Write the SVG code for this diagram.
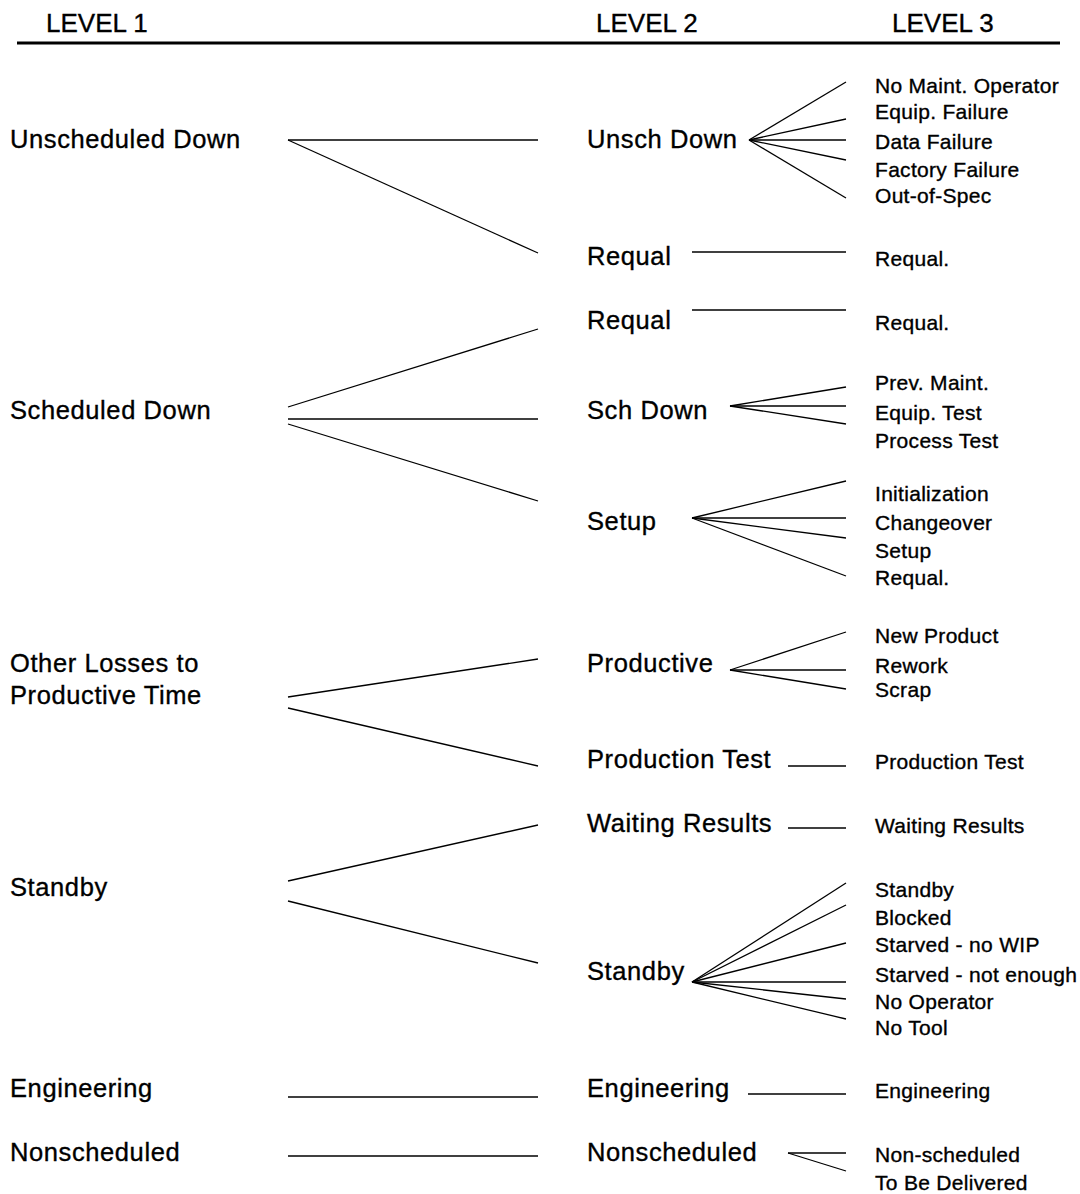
<svg xmlns="http://www.w3.org/2000/svg" width="1080" height="1194" viewBox="0 0 1080 1194">
<style>
text{font-family:"Liberation Sans",Arial,sans-serif;fill:#000;stroke:#000;stroke-width:0.35}
.h{font-size:26px}
.l{font-size:25.5px;letter-spacing:0.6px}
.s{font-size:21px;letter-spacing:0.3px}
line{stroke:#000;stroke-width:1.3}
.hr{stroke-width:3}
</style>
<rect width="1080" height="1194" fill="#fff"/>
<g id="header">
<text class="h" x="46" y="32">LEVEL 1</text>
<text class="h" x="596" y="32">LEVEL 2</text>
<text class="h" x="892" y="32">LEVEL 3</text>
<line class="hr" x1="17" y1="43" x2="1060" y2="43"/>
</g>
<g id="level1">
<g id="l1-unsch"><text class="l" x="10" y="148">Unscheduled Down</text></g>
<g id="l1-sch"><text class="l" x="10" y="419">Scheduled Down</text></g>
<g id="l1-other"><text class="l" x="10" y="672">Other Losses to</text><text class="l" x="10" y="704">Productive Time</text></g>
<g id="l1-standby"><text class="l" x="10" y="896">Standby</text></g>
<g id="l1-eng"><text class="l" x="10" y="1097">Engineering</text></g>
<g id="l1-nonsch"><text class="l" x="10" y="1161">Nonscheduled</text></g>
</g>
<g id="level2">
<g id="l2-unsch"><text class="l" x="587" y="148">Unsch Down</text></g>
<g id="l2-requal1"><text class="l" x="587" y="265">Requal</text></g>
<g id="l2-requal2"><text class="l" x="587" y="329">Requal</text></g>
<g id="l2-sch"><text class="l" x="587" y="419">Sch Down</text></g>
<g id="l2-setup"><text class="l" x="587" y="530">Setup</text></g>
<g id="l2-prod"><text class="l" x="587" y="672">Productive</text></g>
<g id="l2-prodtest"><text class="l" x="587" y="768">Production Test</text></g>
<g id="l2-wait"><text class="l" x="587" y="832">Waiting Results</text></g>
<g id="l2-standby"><text class="l" x="587" y="980">Standby</text></g>
<g id="l2-eng"><text class="l" x="587" y="1097">Engineering</text></g>
<g id="l2-nonsch"><text class="l" x="587" y="1161">Nonscheduled</text></g>
</g>
<g id="level3">
<g id="l3-unsch">
<text class="s" x="875" y="93">No Maint. Operator</text>
<text class="s" x="875" y="119">Equip. Failure</text>
<text class="s" x="875" y="149">Data Failure</text>
<text class="s" x="875" y="177">Factory Failure</text>
<text class="s" x="875" y="203">Out-of-Spec</text>
</g>
<g id="l3-requal1"><text class="s" x="875" y="266">Requal.</text></g>
<g id="l3-requal2"><text class="s" x="875" y="330">Requal.</text></g>
<g id="l3-sch">
<text class="s" x="875" y="390">Prev. Maint.</text>
<text class="s" x="875" y="420">Equip. Test</text>
<text class="s" x="875" y="448">Process Test</text>
</g>
<g id="l3-setup">
<text class="s" x="875" y="501">Initialization</text>
<text class="s" x="875" y="530">Changeover</text>
<text class="s" x="875" y="558">Setup</text>
<text class="s" x="875" y="585">Requal.</text>
</g>
<g id="l3-prod">
<text class="s" x="875" y="643">New Product</text>
<text class="s" x="875" y="673">Rework</text>
<text class="s" x="875" y="697">Scrap</text>
</g>
<g id="l3-prodtest"><text class="s" x="875" y="769">Production Test</text></g>
<g id="l3-wait"><text class="s" x="875" y="833">Waiting Results</text></g>
<g id="l3-standby">
<text class="s" x="875" y="897">Standby</text>
<text class="s" x="875" y="925">Blocked</text>
<text class="s" x="875" y="952">Starved - no WIP</text>
<text class="s" x="875" y="982">Starved - not enough</text>
<text class="s" x="875" y="1009">No Operator</text>
<text class="s" x="875" y="1035">No Tool</text>
</g>
<g id="l3-eng"><text class="s" x="875" y="1098">Engineering</text></g>
<g id="l3-nonsch">
<text class="s" x="875" y="1162">Non-scheduled</text>
<text class="s" x="875" y="1190">To Be Delivered</text>
</g>
</g>
<g id="connectors">
<line x1="288" y1="140" x2="538" y2="140"/>
<line x1="288" y1="140" x2="538" y2="253"/>
<line x1="288" y1="407" x2="538" y2="329"/>
<line x1="288" y1="419" x2="538" y2="419"/>
<line x1="288" y1="424" x2="538" y2="501"/>
<line x1="288" y1="697" x2="538" y2="659"/>
<line x1="288" y1="708" x2="538" y2="766"/>
<line x1="288" y1="881" x2="538" y2="825"/>
<line x1="288" y1="901" x2="538" y2="963"/>
<line x1="288" y1="1097" x2="538" y2="1097"/>
<line x1="288" y1="1156" x2="538" y2="1156"/>
<line x1="749" y1="140" x2="846" y2="82"/>
<line x1="749" y1="140" x2="846" y2="119"/>
<line x1="749" y1="140" x2="846" y2="140"/>
<line x1="749" y1="140" x2="846" y2="160"/>
<line x1="749" y1="140" x2="846" y2="198"/>
<line x1="692" y1="252" x2="846" y2="252"/>
<line x1="692" y1="310" x2="846" y2="310"/>
<line x1="730" y1="406" x2="846" y2="387"/>
<line x1="730" y1="406" x2="846" y2="406"/>
<line x1="730" y1="406" x2="846" y2="424"/>
<line x1="692" y1="518" x2="846" y2="481"/>
<line x1="692" y1="518" x2="846" y2="518"/>
<line x1="692" y1="518" x2="846" y2="538"/>
<line x1="692" y1="518" x2="846" y2="576"/>
<line x1="730" y1="670" x2="846" y2="632"/>
<line x1="730" y1="670" x2="846" y2="670"/>
<line x1="730" y1="670" x2="846" y2="689"/>
<line x1="788" y1="766" x2="846" y2="766"/>
<line x1="788" y1="828" x2="846" y2="828"/>
<line x1="692" y1="982" x2="846" y2="883"/>
<line x1="692" y1="982" x2="846" y2="905"/>
<line x1="692" y1="982" x2="846" y2="943"/>
<line x1="692" y1="982" x2="846" y2="982"/>
<line x1="692" y1="982" x2="846" y2="999"/>
<line x1="692" y1="982" x2="846" y2="1019"/>
<line x1="748" y1="1094" x2="846" y2="1094"/>
<line x1="788" y1="1153" x2="846" y2="1153"/>
<line x1="788" y1="1153" x2="846" y2="1171"/>
</g>
</svg>
